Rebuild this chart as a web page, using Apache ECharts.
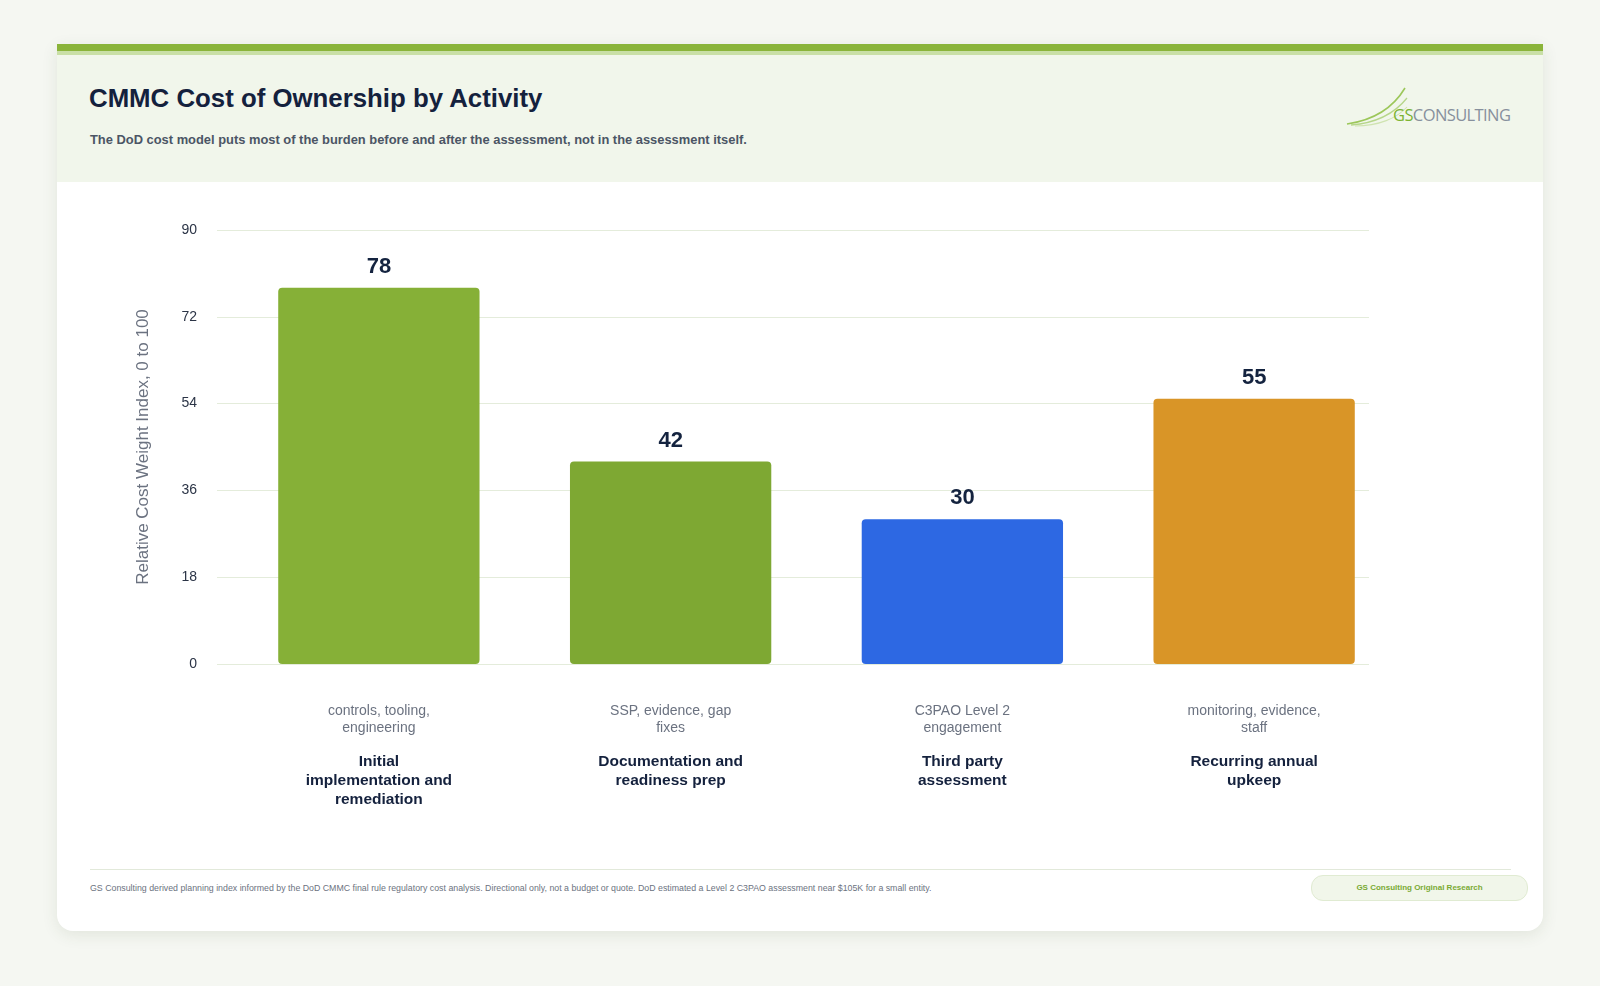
<!DOCTYPE html>
<html>
<head>
<meta charset="utf-8">
<title>CMMC Cost of Ownership by Activity</title>
<script src="https://cdn.jsdelivr.net/npm/echarts@6/dist/echarts.min.js"></script>
<style>
  html, body { margin: 0; padding: 0; }
  body {
    width: 1600px; height: 986px; position: relative; overflow: hidden;
    background: #f5f7f2;
    font-family: "Liberation Sans", Arial, Helvetica, sans-serif;
  }
  .card {
    position: absolute; left: 57px; top: 44px; width: 1486px; height: 887px;
    background: #fff; border-radius: 0 0 16px 16px;
    box-shadow: 0 4px 16px rgba(60, 80, 40, 0.10);
    overflow: hidden;
  }
  .topbar { position: absolute; left: 0; top: 0; width: 100%; height: 7px; background: #8ab43a; }
  .topbar2 { position: absolute; left: 0; top: 7px; width: 100%; height: 4px; background: #c9dfa6; }
  .header { position: absolute; left: 0; top: 11px; width: 100%; height: 127px; background: #f1f6eb; }
  .title {
    position: absolute; left: 32px; top: 29px; margin: 0;
    font-size: 25.8px; font-weight: 700; color: #14213d;
  }
  .subtitle {
    position: absolute; left: 33px; top: 77px; margin: 0;
    font-size: 12.9px; font-weight: 700; color: #4b5565;
  }
  .logo { position: absolute; left: 1288px; top: 25px; }
  .footline { position: absolute; left: 33px; top: 825px; width: 1421px; height: 1px; background: #e2e9da; }
  .footnote { position: absolute; left: 33px; top: 839px; font-size: 8.8px; color: #6b7280; }
  .badge {
    position: absolute; left: 1254px; top: 831px; width: 215px; height: 24px;
    border-radius: 12px; background: #f1f6ea; border: 1px solid #e0ebd2;
    font-size: 8px; font-weight: 700; color: #7aaa34;
    text-align: center; line-height: 24px;
  }
  #chart { position: absolute; left: 0; top: 0; width: 1600px; height: 986px; }
</style>
</head>
<body>
<div class="card">
  <div class="topbar"></div>
  <div class="topbar2"></div>
  <div class="header">
    <h1 class="title">CMMC Cost of Ownership by Activity</h1>
    <p class="subtitle">The DoD cost model puts most of the burden before and after the assessment, not in the assessment itself.</p>
    <svg class="logo" width="180" height="50" viewBox="0 0 180 50">
      <path d="M2 44 C 30 40, 48 28, 60 8" stroke="#9cc75a" stroke-width="1.6" fill="none"/>
      <path d="M6 45 C 32 43, 50 33, 62 18" stroke="#b6d68a" stroke-width="1.3" fill="none"/>
      <path d="M10 46 C 34 46, 52 38, 62 27" stroke="#cfe3b0" stroke-width="1.1" fill="none"/>
      <text x="48" y="41" font-family="'Open Sans', sans-serif" font-size="16.5" letter-spacing="-0.6"><tspan fill="#7cb332">GS</tspan><tspan fill="#87909d">CONSULTING</tspan></text>
    </svg>
  </div>
  <div class="footline"></div>
  <div class="footnote">GS Consulting derived planning index informed by the DoD CMMC final rule regulatory cost analysis. Directional only, not a budget or quote. DoD estimated a Level 2 C3PAO assessment near $105K for a small entity.</div>
  <div class="badge">GS Consulting Original Research</div>
</div>
<div id="chart"></div>
<script>
// chart data
const activities = [
  "Initial\nimplementation and\nremediation",
  "Documentation and\nreadiness prep",
  "Third party\nassessment",
  "Recurring annual\nupkeep"
];
const activityDetails = [
  "controls, tooling,\nengineering",
  "SSP, evidence, gap\nfixes",
  "C3PAO Level 2\nengagement",
  "monitoring, evidence,\nstaff"
];
const costIndex = [78, 42, 30, 55];
const yMin = 0;
const yMax = 90;
const yStep = 18;

const barColors = ["#86b037", "#7ea833", "#2d68e3", "#d99527"];
const gridColor = "#e4ecdb";

const chart = echarts.init(document.getElementById("chart"));

const labelFor = (i) => {
  const sub = activityDetails[i].split("\n").map((s) => `{sub|${s}}`).join("\n");
  const name = activities[i].split("\n").map((s) => `{name|${s}}`).join("\n");
  return `${sub}\n{gap| }\n${name}`;
};

const option = {
  animation: false,
  grid: [
    { left: 217, top: 230, width: 1152, height: 434 },
    { left: 233, top: 230, width: 1167, height: 434 }
  ],
  xAxis: [
    { gridIndex: 0, type: "category", data: activities, show: false },
    {
      gridIndex: 1,
      type: "category",
      data: activities,
      axisLine: { show: false },
      axisTick: { show: false },
      axisLabel: {
        margin: 38,
        interval: 0,
        formatter: (value, index) => labelFor(index),
        rich: {
          sub: { fontSize: 14, lineHeight: 17.5, color: "#6b7280", fontFamily: "Liberation Sans, Arial, sans-serif", align: "center" },
          gap: { fontSize: 6, lineHeight: 15 },
          name: { fontSize: 15.5, lineHeight: 19, fontWeight: "bold", color: "#14213d", fontFamily: "Liberation Sans, Arial, sans-serif", align: "center" }
        }
      }
    }
  ],
  yAxis: [
    {
      gridIndex: 0,
      type: "value",
      min: yMin,
      max: yMax,
      interval: yStep,
      name: "Relative Cost Weight Index, 0 to 100",
      nameLocation: "middle",
      nameGap: 65,
      nameTextStyle: { fontSize: 17, color: "#6b7280", fontFamily: "Liberation Sans, Arial, sans-serif" },
      axisLine: { show: false },
      axisTick: { show: false },
      axisLabel: { margin: 20, fontSize: 14, color: "#2b3446", fontFamily: "Liberation Sans, Arial, sans-serif" },
      splitLine: { show: true, lineStyle: { color: gridColor, width: 1 } }
    },
    { gridIndex: 1, type: "value", min: yMin, max: yMax, interval: yStep, show: false, splitLine: { show: false } }
  ],
  series: [
    {
      type: "bar",
      xAxisIndex: 1,
      yAxisIndex: 1,
      barWidth: "69%",
      data: costIndex.map((v, i) => ({ value: v, itemStyle: { color: barColors[i] } })),
      itemStyle: { borderRadius: 4 },
      label: {
        show: true,
        position: "top",
        distance: 10,
        fontSize: 22,
        fontWeight: "bold",
        color: "#14233f",
        fontFamily: "Liberation Sans, Arial, sans-serif"
      }
    }
  ]
};

chart.setOption(option);
</script>
</body>
</html>
